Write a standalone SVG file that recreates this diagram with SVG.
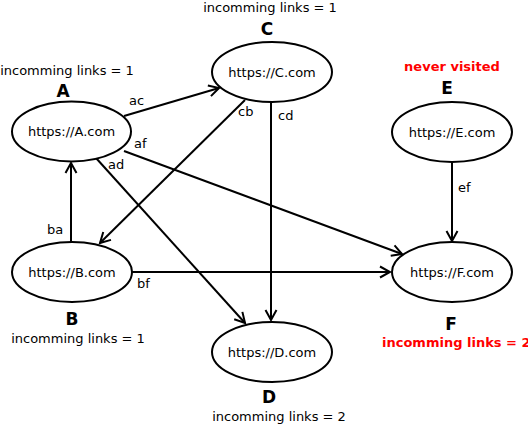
<svg xmlns="http://www.w3.org/2000/svg" width="528" height="425" viewBox="0 0 528 425">
<style>
text{font-family:"DejaVu Sans",Verdana,sans-serif;fill:#000}
.url{font-size:13px;text-anchor:middle}
.lbl{font-size:13px}
.inc{font-size:13px;text-anchor:middle}
.name{font-size:17px;font-weight:bold;text-anchor:middle}
.red{fill:#ff0000;font-weight:bold}
ellipse{fill:#fff;stroke:#000;stroke-width:2}
.e{stroke:#000;stroke-width:2;fill:none}
</style>
<defs>
<marker id="arr" markerUnits="userSpaceOnUse" markerWidth="14" markerHeight="14" viewBox="0 0 14 14" refX="12" refY="7" orient="auto">
<path d="M2,1.5 L12,7 L2,12.5" fill="none" stroke="#000" stroke-width="2"/>
</marker>
</defs>
<g id="connectors">
<line class="e" x1="124" y1="116" x2="219" y2="88" marker-end="url(#arr)"/>
<line class="e" x1="124" y1="151" x2="402" y2="254" marker-end="url(#arr)"/>
<line class="e" x1="96" y1="158" x2="245" y2="323" marker-end="url(#arr)"/>
<line class="e" x1="245" y1="100" x2="100" y2="243" marker-end="url(#arr)"/>
<line class="e" x1="271" y1="102" x2="271" y2="320" marker-end="url(#arr)"/>
<line class="e" x1="71" y1="242" x2="71" y2="163" marker-end="url(#arr)"/>
<line class="e" x1="132" y1="272" x2="390" y2="272" marker-end="url(#arr)"/>
<line class="e" x1="452" y1="162" x2="452" y2="241" marker-end="url(#arr)"/>
<text class="lbl" x="129" y="105">ac</text>
<text class="lbl" x="134" y="148">af</text>
<text class="lbl" x="108" y="169">ad</text>
<text class="lbl" x="238" y="116">cb</text>
<text class="lbl" x="278" y="120">cd</text>
<text class="lbl" x="47" y="234">ba</text>
<text class="lbl" x="137" y="288">bf</text>
<text class="lbl" x="458" y="192">ef</text>
</g>
<g id="nodeA">
<ellipse cx="71.5" cy="131.5" rx="59.5" ry="30"/>
<text class="url" x="71.5" y="136">https://A.com</text>
<text class="name" x="63" y="97">A</text>
<text class="inc" x="67" y="75">incomming links = 1</text>
</g>
<g id="nodeC">
<ellipse cx="272" cy="72" rx="60" ry="30"/>
<text class="url" x="272" y="76.5">https://C.com</text>
<text class="name" x="267" y="35">C</text>
<text class="inc" x="270" y="12">incomming links = 1</text>
</g>
<g id="nodeE">
<ellipse cx="452" cy="132" rx="60" ry="30"/>
<text class="url" x="452" y="136.5">https://E.com</text>
<text class="name" x="447" y="94">E</text>
<text class="inc red" x="452" y="71">never visited</text>
</g>
<g id="nodeB">
<ellipse cx="72" cy="272" rx="60" ry="30"/>
<text class="url" x="72" y="276.5">https://B.com</text>
<text class="name" x="72" y="325">B</text>
<text class="inc" x="78" y="343">incomming links = 1</text>
</g>
<g id="nodeF">
<ellipse cx="452" cy="272" rx="60" ry="30"/>
<text class="url" x="452" y="276.5">https://F.com</text>
<text class="name" x="451" y="330">F</text>
<text class="lbl red" x="382" y="347">incomming links = 2</text>
</g>
<g id="nodeD">
<ellipse cx="272" cy="352" rx="60" ry="30"/>
<text class="url" x="272" y="356.5">https://D.com</text>
<text class="name" x="269" y="403">D</text>
<text class="inc" x="279" y="421">incomming links = 2</text>
</g>
</svg>
